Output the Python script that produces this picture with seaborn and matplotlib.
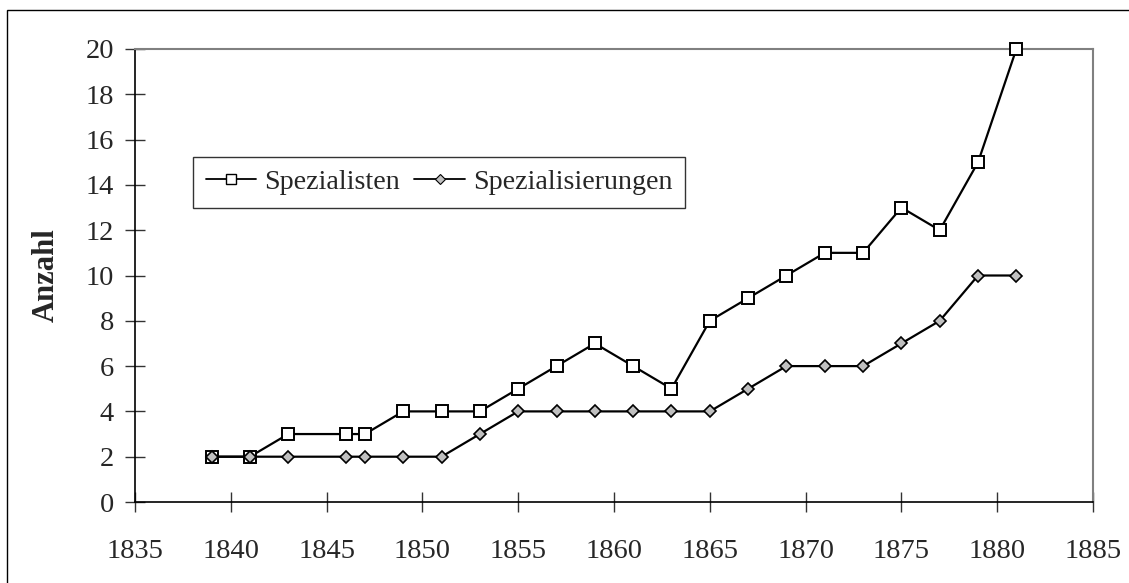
import matplotlib
matplotlib.use("Agg")
import matplotlib.pyplot as plt
import seaborn as sns
import pandas as pd
from matplotlib.lines import Line2D
from matplotlib.patches import Rectangle

years = [1839, 1841, 1843, 1846, 1847, 1849, 1851, 1853, 1855, 1857, 1859,
         1861, 1863, 1865, 1867, 1869, 1871, 1873, 1875, 1877, 1879, 1881]
spezialisten = [2, 2, 3, 3, 3, 4, 4, 4, 5, 6, 7, 6, 5, 8, 9, 10, 11, 11, 13, 12, 15, 20]
spezialisierungen = [2, 2, 2, 2, 2, 2, 2, 3, 4, 4, 4, 4, 4, 4, 5, 6, 6, 6, 7, 8, 10, 10]
x_ticks = [1835, 1840, 1845, 1850, 1855, 1860, 1865, 1870, 1875, 1880, 1885]
y_ticks = [0, 2, 4, 6, 8, 10, 12, 14, 16, 18, 20]

sns.set_style("white")
plt.rcParams["font.family"] = ["Liberation Serif", "DejaVu Serif"]

W, H = 1129, 583
fig = plt.figure(figsize=(W / 100, H / 100), dpi=100)
ax = fig.add_axes([135 / W, 1 - 502 / H, (1093 - 135) / W, (502 - 49) / H])

df = pd.DataFrame({"Jahr": years, "Spezialisten": spezialisten,
                   "Spezialisierungen": spezialisierungen})

sns.lineplot(data=df, x="Jahr", y="Spezialisten", ax=ax, color="black",
             linewidth=1.6, marker="s", markersize=8.5, markerfacecolor="white",
             markeredgecolor="black", markeredgewidth=1.4, clip_on=False, zorder=3)
sns.lineplot(data=df, x="Jahr", y="Spezialisierungen", ax=ax, color="black",
             linewidth=1.6, marker="D", markersize=6.5, markerfacecolor="#c0c0c0",
             markeredgecolor="black", markeredgewidth=1.2, clip_on=False, zorder=4)

ax.set_xlim(1835, 1885)
ax.set_ylim(0, 20)
ax.set_xticks(x_ticks)
ax.set_yticks(y_ticks)
ax.set_xticklabels([str(t) for t in x_ticks])
ax.set_yticklabels([str(t) for t in y_ticks])

for s in ["left", "bottom"]:
    ax.spines[s].set_color("black")
    ax.spines[s].set_linewidth(1.2)
for s in ["top", "right"]:
    ax.spines[s].set_color("#808080")
    ax.spines[s].set_linewidth(1.5)
    ax.spines[s].set_visible(True)

ax.tick_params(axis="x", direction="inout", length=14, width=1.0, color="#333333",
               labelsize=20.5, pad=20, bottom=True)
ax.tick_params(axis="y", direction="inout", length=14, width=1.0, color="#333333",
               labelsize=20.5, pad=8, left=True)

ax.set_xlabel("")
ax.set_ylabel("Anzahl", fontsize=22, fontweight="bold")
ax.yaxis.set_label_coords((61 - 135) / (1093 - 135), 0.5)

handles = [
    Line2D([], [], color="black", linewidth=1.3, marker="s", markersize=7,
           markerfacecolor="white", markeredgecolor="black", markeredgewidth=1.0),
    Line2D([], [], color="black", linewidth=1.3, marker="D", markersize=5.5,
           markerfacecolor="#c0c0c0", markeredgecolor="black", markeredgewidth=0.8),
]
leg = ax.legend(handles, ["Spezialisten", "Spezialisierungen"], ncol=2,
                loc="upper left", bbox_to_anchor=((193 - 135) / 958, (502 - 157) / 453),
                borderaxespad=0, fontsize=20.2, frameon=True, fancybox=False,
                handlelength=1.8, handletextpad=0.3, columnspacing=0.5,
                borderpad=0.45)
leg.get_frame().set_edgecolor("black")
leg.get_frame().set_linewidth(1.0)

fig.patches.append(Rectangle((7 / W, -0.1), 1.2, 1 - 10 / H + 0.1,
                             transform=fig.transFigure, fill=False,
                             edgecolor="black", linewidth=1.0))

fig.savefig("out.png", dpi=100)
